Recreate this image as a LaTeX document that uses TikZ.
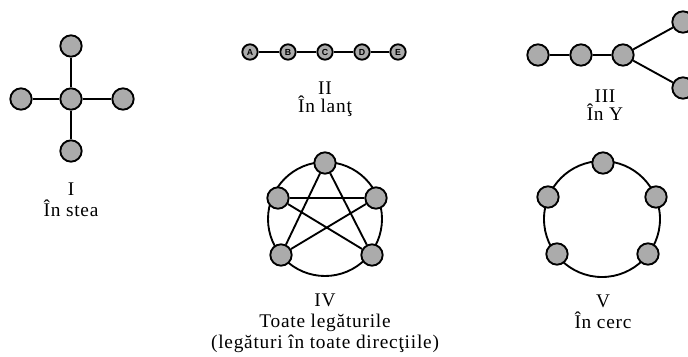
\documentclass[tikz,border=0pt]{standalone}
\usepackage{fontspec}
\setmainfont{Liberation Serif}[LetterSpace=4]
\newfontfamily\lettersans{Liberation Sans}
\begin{document}
\begin{tikzpicture}[x=0.03cm, y=-0.03cm,
    station/.style={circle, draw, line width=1.6pt, fill=black!33, minimum size=0.64cm, inner sep=0pt},
    smallstation/.style={station, minimum size=0.46cm, font=\lettersans\bfseries\fontsize{7.5}{8}\selectfont},
    link/.style={line width=1.6pt},
    caption/.style={align=center, font=\fontsize{16.5}{18}\selectfont}]
  \useasboundingbox (0,0) rectangle (688,356);

  % I: star
  \node[station] (sc) at (71,99) {};
  \node[station] (sn) at (71,46) {};
  \node[station] (sw) at (21,99) {};
  \node[station] (se) at (123,99) {};
  \node[station] (ss) at (71,151) {};
  \draw[link] (sc) -- (sn) (sc) -- (sw) (sc) -- (se) (sc) -- (ss);
  \node[caption] (capI) at (71,200) {I\\În stea};

  % II: chain
  \node[smallstation] (ca) at (250,52) {A};
  \node[smallstation] (cb) at (288,52) {B};
  \node[smallstation] (cc) at (325,52) {C};
  \node[smallstation] (cd) at (362,52) {D};
  \node[smallstation] (ce) at (398,52) {E};
  \draw[link] (ca) -- (cb) -- (cc) -- (cd) -- (ce);
  \node[caption] (capII) at (325,99) {II\\[-3pt]În lanţ};

  % III: Y
  \node[station] (y1) at (538,55) {};
  \node[station] (y2) at (581,55) {};
  \node[station] (y3) at (623,55) {};
  \node[station] (yu) at (683,22) {};
  \node[station] (yd) at (683,88) {};
  \draw[link] (y1) -- (y2) -- (y3) -- (yu) (y3) -- (yd);
  \node[caption] (capIII) at (605,105) {III\\[-3pt]În Y};

  % IV: all links
  \draw[link] (325,219) circle (57);
  \node[station] (ka) at (325,163) {};
  \node[station] (kb) at (278,198) {};
  \node[station] (kc) at (281,255) {};
  \node[station] (kd) at (372,255) {};
  \node[station] (ke) at (376,198) {};
  \draw[link] (ka) -- (kc) (ka) -- (kd) (kb) -- (ke) (kb) -- (kd) (kc) -- (ke);
  \node[caption] (capIV) at (325,323) {IV\\Toate legăturile\\(legături în toate direcţiile)};

  % V: ring
  \draw[link] (602,219) circle (58);
  \node[station] (ra) at (603,163) {};
  \node[station] (rb) at (548,197) {};
  \node[station] (rc) at (557,254) {};
  \node[station] (rd) at (648,254) {};
  \node[station] (re) at (656,197) {};
  \node[caption] (capV) at (603,312) {V\\În cerc};
\end{tikzpicture}
\end{document}
